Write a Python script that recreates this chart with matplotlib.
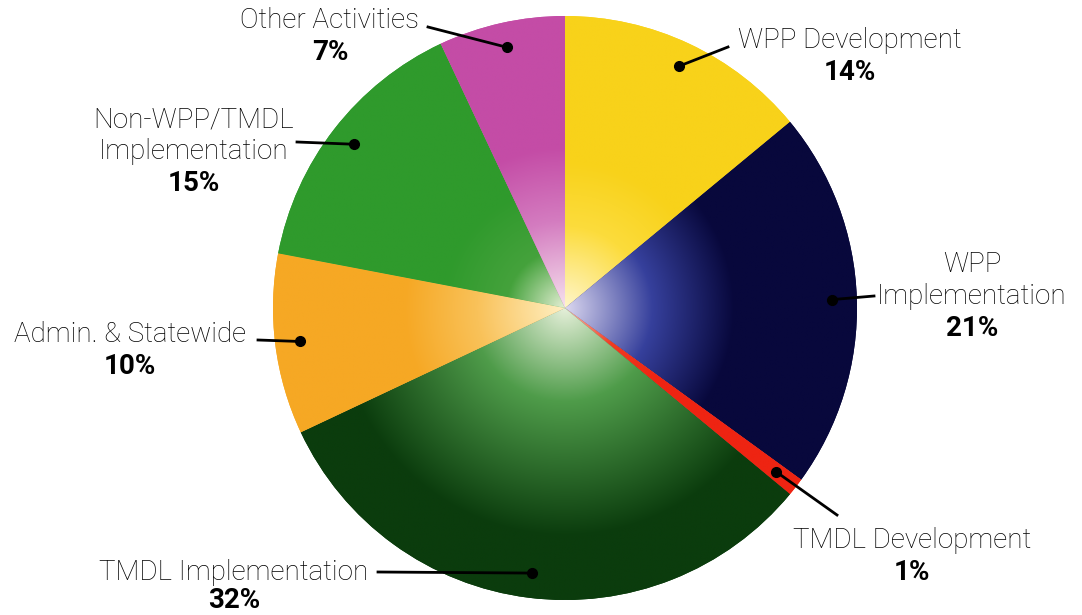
import numpy as np
import matplotlib.pyplot as plt
from matplotlib.colors import to_rgb

# Budget shares by activity (percent), clockwise from 12 o'clock
labels = ['WPP Development', 'WPP\nImplementation', 'TMDL Development',
          'TMDL Implementation', 'Admin. & Statewide',
          'Non-WPP/TMDL\nImplementation', 'Other Activities']
shares = [14, 21, 1, 32, 10, 15, 7]

# slice colours: rim colour plus the lighter tones toward the middle
rim_colors = ['#f8d21a', '#08083c', '#ee2412', '#0b3c0d', '#f6a824', '#2f9a2c', '#c44ca6']
mid_colors = ['#fcdc3c', '#36409c', '#f03c22', '#4f9c4a', '#f9c25a', '#45a23c', '#d47cc0']
hub_colors = ['#fff6cc', '#dcd8f0', '#f8c8b8', '#e6f0da', '#fff0c4', '#e6f0d6', '#f6e2ee']
fade_stops = [(0.28, 0.5), (0.3, 0.58), (0.2, 0.4), (0.32, 0.78),
              (0.3, 0.55), (0.2, 0.42), (0.3, 0.55)]

# label text anchor (x, y) in pixels from the top left, leader line tail,
# and the gap down to the percentage line
label_pos = [(850, 40), (972, 265), (912, 540), (234, 572), (130, 335), (194, 120), (330, 21)]
line_tail = [(728, 47), (874, 296), (837, 515), (378, 572), (258, 340), (297, 142), (428, 27)]
pct_gap = [32, 32, 33, 28, 32, 32, 32]

W, H = 1082, 615
fig = plt.figure(figsize=(W / 100, H / 100), dpi=100)
ax = fig.add_axes([0, 0, 1, 1])

cx, cy, R = 565, H - 308, 292
wedges, _ = ax.pie(shares, colors=rim_colors, startangle=90, counterclock=False,
                   radius=R, center=(cx, cy), wedgeprops=dict(linewidth=0))

# radial light-to-dark shading inside each slice
n = 700
xs = np.linspace(cx - R, cx + R, n)
ys = np.linspace(cy - R, cy + R, n)
X, Y = np.meshgrid(xs, ys)
rr = np.hypot(X - cx, Y - cy) / R
for w, c_hub, c_mid, c_rim, (s1, s2) in zip(wedges, hub_colors, mid_colors, rim_colors, fade_stops):
    a, b, c = to_rgb(c_hub), to_rgb(c_mid), to_rgb(c_rim)
    img = np.zeros((n, n, 3))
    for k in range(3):
        img[..., k] = np.interp(rr, [0, s1, s2, 1], [a[k], b[k], c[k], c[k]])
    im = ax.imshow(img, extent=(cx - R, cx + R, cy - R, cy + R), origin='lower',
                   interpolation='bilinear', zorder=w.get_zorder() + 0.5)
    im.set_clip_path(w)

font = 'Roboto'
for w, lab, share, (tx, ty), (lx, ly), gap in zip(wedges, labels, shares, label_pos, line_tail, pct_gap):
    mid = np.deg2rad((w.theta1 + w.theta2) / 2)
    dx = cx + 0.915 * R * np.cos(mid)
    dy = cy + 0.915 * R * np.sin(mid)
    ax.plot([lx, dx], [H - ly, dy], color='black', lw=2, zorder=5)
    ax.plot(dx, dy, 'o', color='black', ms=7, zorder=6)

    lines = lab.split('\n')
    for i, line in enumerate(lines):
        ax.text(tx, H - (ty + 31.5 * i), line, ha='center', va='center',
                fontsize=20, family=font, fontweight='light', color='black')
    pct_y = ty + 31.5 * (len(lines) - 1) + gap
    ax.text(tx, H - pct_y, f'{share}%', ha='center', va='center',
            fontsize=20, family=font, fontweight='bold', color='black')

ax.set_xlim(0, W)
ax.set_ylim(0, H)
ax.set_aspect('equal')
ax.axis('off')

plt.savefig('out.png', dpi=100)
plt.close()
